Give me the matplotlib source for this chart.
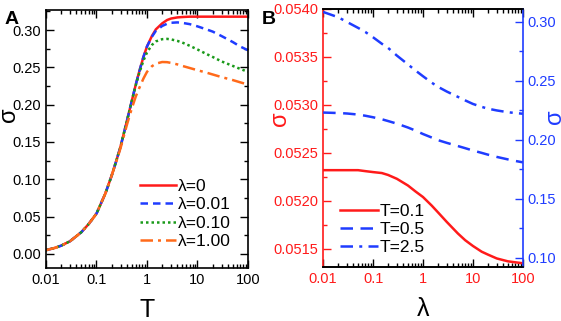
import matplotlib
matplotlib.use("Agg")
import matplotlib.pyplot as plt
from matplotlib.ticker import LogLocator, FixedLocator, MultipleLocator, NullFormatter, FuncFormatter

plt.rcParams['font.family'] = ['Liberation Sans', 'DejaVu Sans']

# ---------------- Panel A data ----------------
T_vals = [0.01, 0.015, 0.02, 0.03, 0.05, 0.07, 0.1, 0.15, 0.2, 0.25, 0.3, 0.4, 0.5, 0.6,
          0.7, 0.85, 1, 1.25, 1.5, 2, 2.5, 3, 4, 5, 7, 10, 15, 20, 30, 50, 70, 100]
sig_l0 = [0.005, 0.008, 0.011, 0.017, 0.029, 0.040, 0.054, 0.081, 0.105, 0.126, 0.144, 0.178, 0.205, 0.227,
          0.244, 0.264, 0.278, 0.292, 0.301, 0.309, 0.3135, 0.3155, 0.317, 0.3175, 0.318, 0.318, 0.318, 0.318, 0.318, 0.318, 0.318, 0.318]
sig_l001 = [0.005, 0.008, 0.011, 0.017, 0.029, 0.040, 0.054, 0.081, 0.105, 0.126, 0.144, 0.178, 0.205, 0.227,
            0.244, 0.264, 0.278, 0.291, 0.299, 0.3055, 0.3085, 0.3098, 0.3103, 0.3097, 0.308, 0.305, 0.301, 0.298, 0.292, 0.284, 0.278, 0.273]
sig_l010 = [0.005, 0.008, 0.011, 0.017, 0.029, 0.040, 0.054, 0.081, 0.105, 0.126, 0.144, 0.178, 0.205, 0.226,
            0.242, 0.259, 0.270, 0.280, 0.2848, 0.2878, 0.2882, 0.2875, 0.2855, 0.2833, 0.279, 0.274, 0.268, 0.264, 0.258, 0.252, 0.248, 0.244]
sig_l100 = [0.005, 0.008, 0.011, 0.017, 0.029, 0.040, 0.054, 0.081, 0.105, 0.125, 0.142, 0.173, 0.195, 0.211,
            0.222, 0.235, 0.244, 0.2515, 0.2550, 0.2572, 0.2570, 0.2560, 0.2540, 0.2520, 0.2492, 0.2462, 0.2430, 0.2405, 0.2370, 0.2330, 0.2300, 0.2270]
labels_A = ['λ=0', 'λ=0.01', 'λ=0.10', 'λ=1.00']

# ---------------- Panel B data ----------------
lam_vals = [0.01, 0.02, 0.03, 0.05, 0.07, 0.1, 0.15, 0.2, 0.3, 0.5, 0.7, 1, 1.5, 2, 3, 5,
            7, 10, 15, 20, 30, 50, 70, 100]
sig_T01 = [0.05232, 0.05232, 0.05232, 0.05232, 0.05231, 0.05230, 0.05229, 0.05227, 0.05223, 0.05216,
           0.05210, 0.05204, 0.05195, 0.05188, 0.05178, 0.05166, 0.05159, 0.05153, 0.05147, 0.05144,
           0.05140, 0.05137, 0.05136, 0.05135]
sig_T05 = [0.2232, 0.2228, 0.2224, 0.2215, 0.2205, 0.2192, 0.2175, 0.2160, 0.2138, 0.2105, 0.2080,
           0.2050, 0.2020, 0.1998, 0.1975, 0.1948, 0.1930, 0.1910, 0.1890, 0.1875, 0.1856, 0.1835,
           0.1822, 0.1810]
sig_T25 = [0.3085, 0.3040, 0.3000, 0.2950, 0.2915, 0.2870, 0.2815, 0.2780, 0.2715, 0.2640, 0.2590,
           0.2540, 0.2485, 0.2450, 0.2410, 0.2365, 0.2335, 0.2305, 0.2280, 0.2265, 0.2250, 0.2235,
           0.2228, 0.2222]
labels_B = ['T=0.1', 'T=0.5', 'T=2.5']

xtick_vals = [0.01, 0.1, 1, 10, 100]
xtick_labels = ['0.01', '0.1', '1', '10', '100']

RED = '#ff1a1a'
BLUE = '#1f3cff'
GREEN = '#1a9a1a'
ORANGE = '#ff6a1a'

fig = plt.figure(figsize=(5.61, 3.21), dpi=100)
axA = fig.add_axes([0.082, 0.165, 0.360, 0.804])
axB = fig.add_axes([0.576, 0.168, 0.356, 0.804])

def style_log_x(ax, color='black'):
    ax.set_xscale('log')
    ax.set_xlim(0.01, 100)
    ax.xaxis.set_major_locator(FixedLocator(xtick_vals))
    ax.set_xticklabels(xtick_labels)
    ax.xaxis.set_minor_locator(LogLocator(base=10, subs=range(2, 10), numticks=20))
    ax.xaxis.set_minor_formatter(NullFormatter())
    ax.tick_params(axis='x', which='both', direction='in', top=True, labelsize=10.5, labelcolor=color)
    ax.tick_params(axis='x', which='major', length=6, width=1)
    ax.tick_params(axis='x', which='minor', length=3, width=1)

# ---------- Panel A ----------
axA.plot(T_vals, sig_l0, color=RED, lw=1.8, label=labels_A[0])
axA.plot(T_vals, sig_l001, color=BLUE, lw=1.8, ls=(0, (3, 2)), label=labels_A[1])
axA.plot(T_vals, sig_l010, color=GREEN, lw=1.8, ls=(0, (1, 1.2)), label=labels_A[2])
axA.plot(T_vals, sig_l100, color=ORANGE, lw=1.8, ls=(0, (5, 2, 1.2, 2)), label=labels_A[3])
style_log_x(axA)
axA.set_ylim(-0.019, 0.327)
axA.yaxis.set_major_locator(MultipleLocator(0.05))
axA.yaxis.set_minor_locator(MultipleLocator(0.025))
axA.yaxis.set_major_formatter(FuncFormatter(lambda v, p: f'{v:.2f}'))
axA.tick_params(axis='y', which='both', direction='in', right=True, labelsize=10.5)
axA.tick_params(axis='y', which='major', length=6, width=1)
axA.tick_params(axis='y', which='minor', length=3, width=1)
for s in axA.spines.values():
    s.set_linewidth(1.2)
axA.set_xlabel('T', fontsize=18, labelpad=8)
axA.set_ylabel('σ', fontsize=17)
axA.yaxis.set_label_coords(-0.13, 0.593)
axA.legend(loc='lower left', bbox_to_anchor=(0.43, 0.045), frameon=False, fontsize=12.5,
           handlelength=2.1, handletextpad=0.1, labelspacing=0.2, borderaxespad=0.0)

# ---------- Panel B ----------
axB.plot(lam_vals, sig_T01, color=RED, lw=1.8, label=labels_B[0])
style_log_x(axB, color=RED)
axB.set_ylim(0.05131, 0.0540)
axB.yaxis.set_major_locator(MultipleLocator(0.0005))
axB.yaxis.set_minor_locator(MultipleLocator(0.00025))
axB.yaxis.set_major_formatter(FuncFormatter(lambda v, p: f'{v:.4f}'))
axB.tick_params(axis='y', which='both', direction='in', colors=RED, labelsize=10.5)
axB.tick_params(axis='y', which='major', length=6, width=1)
axB.tick_params(axis='y', which='minor', length=3, width=1)
axB.spines['left'].set_color(RED)
axB.spines['right'].set_visible(False)
for s in axB.spines.values():
    s.set_linewidth(1.2)
axB.set_xlabel('λ', fontsize=18, labelpad=8)
axB.set_ylabel('σ', fontsize=17, color=RED)
axB.yaxis.set_label_coords(-0.16, 0.575)

axB2 = axB.twinx()
axB2.plot(lam_vals, sig_T05, color=BLUE, lw=1.8, ls=(0, (5, 3)), label=labels_B[1])
axB2.plot(lam_vals, sig_T25, color=BLUE, lw=1.8, ls=(0, (5, 2.5, 1.2, 2.5)), label=labels_B[2])
axB2.set_ylim(0.0922, 0.311)
axB2.yaxis.set_major_locator(MultipleLocator(0.05))
axB2.yaxis.set_minor_locator(MultipleLocator(0.025))
axB2.yaxis.set_major_formatter(FuncFormatter(lambda v, p: f'{v:.2f}'))
axB2.tick_params(axis='y', which='both', direction='in', colors=BLUE, labelsize=10.5)
axB2.tick_params(axis='y', which='major', length=6, width=1)
axB2.tick_params(axis='y', which='minor', length=3, width=1)
for name, s in axB2.spines.items():
    s.set_linewidth(1.2)
axB2.spines['right'].set_color(BLUE)
axB2.spines['left'].set_visible(False)
axB2.set_ylabel('σ', fontsize=17, color=BLUE)
axB2.yaxis.set_label_coords(1.105, 0.581)

handles = axB.get_lines()[:1] + axB2.get_lines()
axB.legend(handles, labels_B, loc='lower left', bbox_to_anchor=(0.05, 0.02), frameon=False,
           fontsize=12.5, handlelength=2.2, handletextpad=0.1, labelspacing=0.15, borderaxespad=0.0)

fig.text(0.008, 0.965, 'A', fontsize=14, fontweight='bold', va='top')
fig.text(0.466, 0.965, 'B', fontsize=14, fontweight='bold', va='top')

fig.savefig('out.png', dpi=100)
